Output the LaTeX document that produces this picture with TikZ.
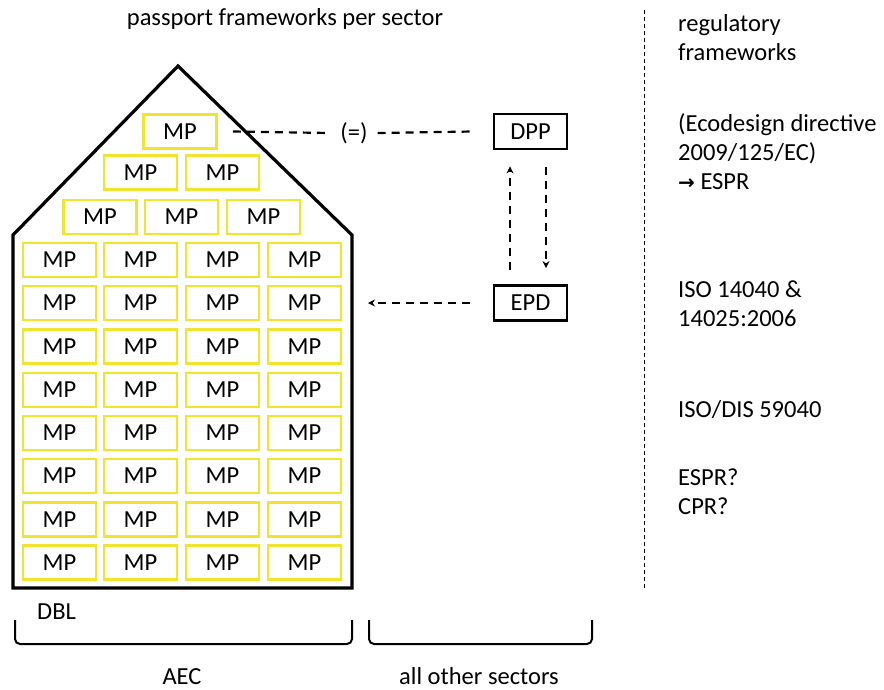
\documentclass[tikz,border=0pt]{standalone}
\usepackage{fontspec}
\setmainfont{Carlito}
\newfontfamily\symfont{DejaVu Sans}
\usetikzlibrary{arrows.meta}
\definecolor{mpyellow}{RGB}{240,228,45}
\begin{document}
\begin{tikzpicture}[x=1pt,y=-1pt,
  every node/.style={font=\fontsize{24.5}{29}\selectfont},
  mpbox/.style={draw=mpyellow,line width=2.8pt,minimum width=73pt,minimum height=34pt,inner sep=0pt},
  blackbox/.style={draw=black,line width=2.8pt,minimum width=73pt,minimum height=35pt,inner sep=0pt},
  txt/.style={inner sep=0pt,anchor=base west},
  dashline/.style={line width=2.2pt,dash pattern=on 8pt off 6pt},
  darrow/.style={line width=2.2pt,dash pattern=on 8pt off 6pt,-{Stealth[length=7pt,width=7pt]}},
  brace/.style={line width=2pt,rounded corners=5pt}]
\useasboundingbox (0,0) rectangle (884,689);
\fill[white] (0,0) rectangle (884,689);
% title
\node[inner sep=0pt,anchor=base] (title) at (285,25) {passport frameworks per sector};
% house
\draw[line width=3.2pt,line join=miter] (13,588) -- (13,235) -- (178,66) -- (352,235) -- (352,588) -- cycle;
% MP roof rows
\node[mpbox] (mp1) at (180,131.5) {MP};
\node[mpbox] (mp21) at (140.5,172.5) {MP};
\node[mpbox] (mp22) at (222.5,172.5) {MP};
\node[mpbox] (mp31) at (100,217) {MP};
\node[mpbox] (mp32) at (181.5,217) {MP};
\node[mpbox] (mp33) at (263.5,217) {MP};
% grid
\foreach \r/\y in {1/260,2/303,3/346.5,4/390,5/433,6/476,7/519.5,8/562.5}{
  \foreach \c/\x in {1/59.5,2/140.5,3/222.5,4/304.5}{
    \node[mpbox] (g\r\c) at (\x,\y) {MP};
  }
}
% DPP / EPD
\node[blackbox] (dpp) at (530.5,131.5) {DPP};
\node[blackbox] (epd) at (530.5,303) {EPD};
\node[inner sep=10pt] (eq) at (354,133) {(=)};
\draw[dashline] ([xshift=15pt]mp1.east) -- (eq.west);
\draw[dashline] (eq.east) -- ([xshift=-20pt]dpp.west);
\draw[darrow] ([xshift=-20.5pt,yshift=14pt]epd.north) -- ([xshift=-20.5pt,yshift=-16pt]dpp.south);
\draw[darrow] ([xshift=15.5pt,yshift=-17pt]dpp.south) -- ([xshift=15.5pt,yshift=16pt]epd.north);
\coordinate (epdtip) at (368,303);
\draw[darrow] ([xshift=-23pt]epd.west) -- (epdtip);
% separator
\coordinate (septop) at (644,10);
\coordinate (sepbot) at (644,588);
\draw[line width=1pt,dash pattern=on 4pt off 3pt] (septop) -- (sepbot);
% right texts
\node[txt] (r1) at (678,31) {regulatory};
\node[txt] (r2) at (678,60) {frameworks};
\node[txt] (r3) at (678,131) {(Ecodesign directive};
\node[txt] (r4) at (678,160) {2009/125/EC)};
\node[txt] (r5) at (678,189) {{\symfont\fontsize{20}{24}\selectfont\bfseries →} ESPR};
\node[txt] (r6) at (678,297) {ISO 14040 \&};
\node[txt] (r7) at (678,326) {14025:2006};
\node[txt] (r8) at (678,417) {ISO/DIS 59040};
\node[txt] (r9) at (678,485) {ESPR?};
\node[txt] (r10) at (678,514) {CPR?};
% bottom labels
\node[txt] (dbl) at (37,619) {DBL};
\draw[brace] (15,620) -- (15,644) -- (352,644) -- (352,620);
\draw[brace] (369,620) -- (369,644) -- (592,644) -- (592,620);
\node[inner sep=0pt,anchor=base] (aec) at (182,684) {AEC};
\node[inner sep=0pt,anchor=base] (other) at (479,684) {all other sectors};
\end{tikzpicture}
\end{document}
